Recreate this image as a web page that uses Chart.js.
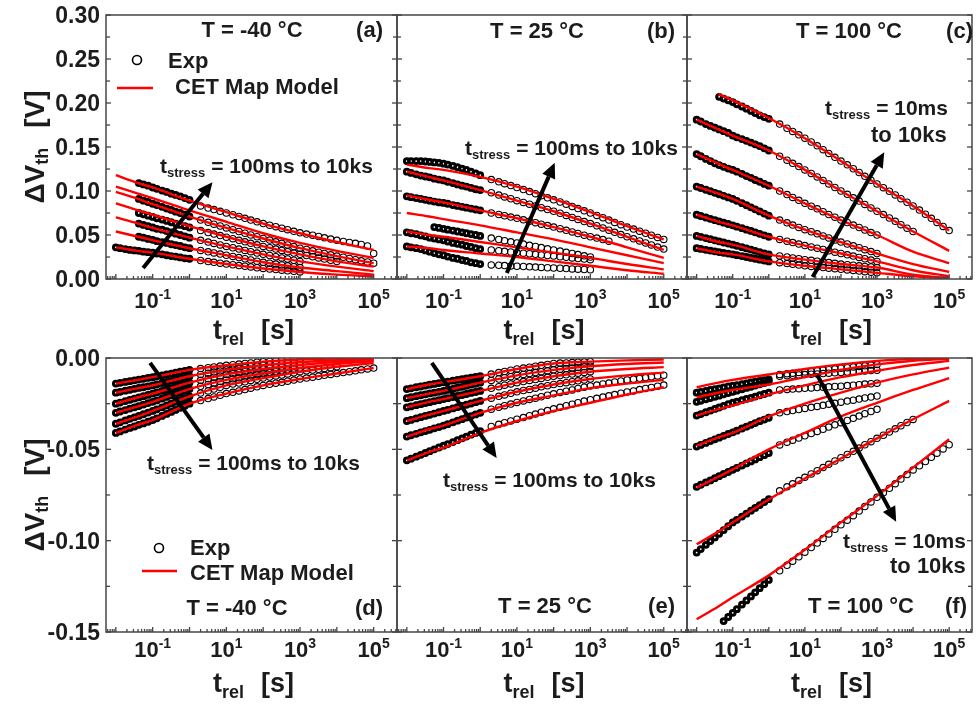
<!DOCTYPE html>
<html>
<head>
<meta charset="utf-8">
<script src="https://cdn.jsdelivr.net/npm/chart.js@4.4.0/dist/chart.umd.min.js"></script>
<style>
html, body { margin: 0; padding: 0; background: #fff; }
#wrap { position: relative; width: 979px; height: 706px; }
#wrap canvas { position: absolute; left: 0; top: 0; }
</style>
</head>
<body>
<div id="wrap">
  <canvas id="pa" width="979" height="706"></canvas>
  <canvas id="pb" width="979" height="706"></canvas>
  <canvas id="pc" width="979" height="706"></canvas>
  <canvas id="pd" width="979" height="706"></canvas>
  <canvas id="pe" width="979" height="706"></canvas>
  <canvas id="pf" width="979" height="706"></canvas>
</div>
<script>
var _ = null;

// relaxation times of the measured points [s]: fast window up to 1 s, then the slow window
var relTimes = [0.01, 0.013, 0.018, 0.024, 0.032, 0.042, 0.056, 0.075, 0.1, 0.13, 0.18, 0.24, 0.32, 0.42, 0.56, 0.75, 1,
                2, 3.2, 4.6, 6.8, 10, 15, 22, 32, 46, 68, 100, 150, 220, 320, 460, 680, 1000,
                1500, 2200, 3200, 4600, 6800, 1e4, 1.5e4, 2.2e4, 3.2e4, 4.6e4, 6.8e4, 1e5];
// relaxation times of the model curves [s]
var fitTimes = [0.01, 0.04, 0.1, 1, 10, 100, 1000, 1e4, 1e5];

var decadeExps = [-1, 1, 3, 5];
var topYTicks = [0, 0.05, 0.10, 0.15, 0.20, 0.25, 0.30];
var bottomYTicks = [-0.15, -0.10, -0.05, 0];
var T_MIN = 0.0054, T_MAX = 4.3e5;
var topRange = [0, 0.30];
var bottomRange = [-0.15, 0];

// dVth in mV, one row per stress time
var expA = [
  [_,_,_,_,_, 109,107.5,106,104,102.5,100.5,99,97,95.5,94,92,90,
   83,80.6,78.9,76.9,75, 73,71,69,67,65,63, 61.2,59.5,57.8,56,54.2,52.5, 51.1,49.7,48.3,46.8,45.4,44, 42.6,41.5,40.5,39.2,37.5,29],
  [_,_,_,_,_, 91,89,87.5,85.5,84,82,80,78.5,76.5,75,73,71,
   67,64.4,62.3,60.2,58, 56,54,52,50,48,46, 44.2,42.3,40.5,38.7,36.8,35, 33.5,32,30.5,29,27.5,26, 24.7,23.3,22,20.7,19.3,18],
  [_,_,_,_,_, 75,73.5,72,70.5,69,67.5,66,64.5,63,61.5,60,58.5,
   55,52.8,51.1,49.3,47.5, 45.8,44,42.2,40.5,38.8,37, 35.5,34,32.5,31,29.5,28, 26.7,25.3,24,22.7,21.3,20, _,_,_,_,_,_],
  [_,_,_,_,_, 63,61.5,60,58.5,57,56,54.5,53,51.5,50,48.5,47,
   44,42,40.4,38.7,37, 35.5,34,32.5,31,29.5,28, 26.7,25.3,24,22.7,21.3,20, _,_,_,_,_,_, _,_,_,_,_,_],
  [_,_,_,_,_, 48,47,45.5,44.5,43,42,41,39.5,38.5,37.5,36,35,
   32.5,30.9,29.6,28.3,27, 25.7,24.3,23,21.7,20.3,19, 18,17,16,15,14,13, _,_,_,_,_,_, _,_,_,_,_,_],
  [36,35,34,33,32.5,32,31,30.5,30,29,28,27,26,25.5,24.5,23.5,23,
   21,19.8,18.9,18,17, 16.2,15.3,14.5,13.7,12.8,12, 11.3,10.7,10,9.3,8.7,8, _,_,_,_,_,_, _,_,_,_,_,_]
];
var fitA = [
  [118,109,104,89,76,63,52,42,33],
  [105,97,92,78,65,52,41,32,24],
  [99,91,85,71,58,46,35,26,18],
  [86,78,73,60,48,37,28,20,14],
  [70,63,58,47,37,28,20,14,9],
  [54,48,44,35,27,19,13,9,5],
  [36,32,30,23,17,12,8,5,3]
];

var expB = [
  [134,134,134,134,133.5,133,132.5,132,131,130,128.5,127,125.5,124,122,120,118,
   113,110.4,108.3,106.2,104, 101.7,99.3,97,94.7,92.3,90, 87.5,85,82.5,80,77.5,75, 72.3,69.7,67,64.3,61.7,59, 56.7,54.3,52,49.7,47.3,45],
  [122,120.5,119,117.5,116.5,115.5,114,113,112,110.5,109,107.5,106,105,103.5,102,101,
   98,95.4,93.3,91.2,89, 87,85,83,81,79,77, 74.7,72.3,70,67.7,65.3,63, 60.5,58,55.5,53,50.5,48, 45.7,43.3,41,38.7,36.3,34],
  [94,93,92,91,90,89,88,87,86.5,85.5,84,83,82,81,80,79,78,
   75,73.3,71.9,70.4,69, 67.3,65.7,64,62.3,60.7,59, 57.2,55.3,53.5,51.7,49.8,48, 46.5,44.8,43,_,_,_, _,_,_,_,_,_],
  [_,_,_,_,_,_, 59,58,57,56,55,54,53,52,51,50,49,
   46.5,44.9,43.6,42.3,41, 39.7,38.3,37,35.7,34.3,33, 31.7,30.3,29,27.7,26.3,25, _,_,_,_,_,_, _,_,_,_,_,_],
  [53,52,51,49.5,48.5,47,46,45,44,42.5,41,40,39,37.5,36.5,35,34,
   33,32.1,31.4,30.7,30, 29.3,28.7,28,27.3,26.7,26, 25.3,24.7,24,23.3,22.7,22, _,_,_,_,_,_, _,_,_,_,_,_],
  [37,36,35,34,32.5,31,29.5,28,27,25.5,24,23,21.5,20.5,19,18,17,
   16,15.6,15.2,14.9,14.5, 14.2,13.8,13.5,13.2,12.8,12.5, 12.2,11.8,11.5,11.2,10.8,10.5, _,_,_,_,_,_, _,_,_,_,_,_]
];
var fitB = [
  [130,126,124,116,105,91,76,60,45],
  [122,116,112,101,89,77,63,48,33],
  [95,90,87,78,69,59,48,36,24],
  [75,71,68,61,53,45,36,27,18],
  [54,50,48,42,36,30,24,17,11],
  [37,35,33,29,25,20,15,10,6]
];

var expC = [
  [_,_,_,_,_, 207,205,203,201,198.5,196,193.5,191,188.5,186,184,182,
   176,171.3,167.7,163.8,160, 155.7,151.3,147,142.7,138.3,134, 129.7,125.3,121,116.7,112.3,108, 103.8,99.7,95.5,91.3,87.2,83, 78.3,73.7,69,64.3,59.7,55],
  [181,179,176,174,172,170,168,166,163,161,159,157,155,153,151,148.5,146,
   139.5,135,131.5,127.7,124, 120,116,112,108,104,100, 96.2,92.3,88.5,84.7,80.8,77, 73.2,69.3,65.5,61.7,57.8,54, _,_,_,_,_,_],
  [142,139.5,136.5,134,131.5,129.5,127.5,125.5,124,122,119.5,117,115,112.5,110.5,108,106,
   100,95.9,92.7,89.4,86, 82.8,79.7,76.5,73.3,70.2,67, 64.2,61.3,58.5,55.7,52.8,50, _,_,_,_,_,_, _,_,_,_,_,_],
  [105,103.4,101.4,99.7,97.9,96.3,94.5,92.7,91,88.8,86.2,83.8,81.4,79.2,76.8,74.4,72,
   67,63.8,61.3,58.6,56, 53.7,51.3,49,46.7,44.3,42, 39.8,37.7,35.5,33.3,31.2,29, _,_,_,_,_,_, _,_,_,_,_,_],
  [73,71.6,69.9,68.4,66.9,65.5,64,62.5,61,59.5,57.7,56.1,54.6,53,51.3,49.6,48,
   45,43,41.4,39.7,38, 36.5,35,33.5,32,30.5,29, 27.5,26,24.5,23,21.5,20, _,_,_,_,_,_, _,_,_,_,_,_],
  [49,47.9,46.5,45.2,44,42.8,41.5,40.3,39,37.7,36.2,34.8,33.4,32,30.6,29.2,28,
   26.2,25,24,23,22, 21.2,20.3,19.5,18.7,17.8,17, 16.3,15.7,15,14.3,13.7,13, _,_,_,_,_,_, _,_,_,_,_,_],
  [35,34.2,33.2,32.3,31.5,30.6,29.8,28.9,28,27.1,26,25,24,23,22,21,20,
   18.5,17.5,16.7,15.8,15, 14.3,13.7,13,12.3,11.7,11, 10.3,9.7,9,8.3,7.7,7, _,_,_,_,_,_, _,_,_,_,_,_]
];
var fitC = [
  [_,210,203,183,160,134,108,83,55],
  [181,170,163,146,124,100,77,54,32],
  [142,131,124,106,86,67,50,31,18],
  [105,97,91,72,56,42,29,17,8],
  [73,65,61,48,38,29,20,10,3],
  [49,42,39,28,22,17,13,5,1],
  [35,30,28,20,15,11,7,3,0.5]
];

var expD = [
  [-14,-13.6,-13.1,-12.7,-12.2,-11.8,-11.4,-10.9,-10.5,-10,-9.5,-9,-8.5,-8,-7.5,-7,-6.5,
   -5.8,-5.3,-4.9,-4.4,-4, -3.7,-3.3,-3,-2.7,-2.3,-2, -1.8,-1.6,-1.4,-1.2,-1,-0.8, _,_,_,_,_,_, _,_,_,_,_,_],
  [-19,-18.5,-17.9,-17.4,-16.9,-16.4,-16,-15.5,-15,-14.4,-13.7,-13.1,-12.5,-11.9,-11.2,-10.6,-10,
   -9,-8.3,-7.7,-7.1,-6.5, -6.1,-5.7,-5.3,-4.8,-4.4,-4, -3.7,-3.4,-3.1,-2.8,-2.5,-2.2, _,_,_,_,_,_, _,_,_,_,_,_],
  [-25,-24.4,-23.6,-22.9,-22.2,-21.6,-20.9,-20.2,-19.5,-18.8,-18,-17.2,-16.5,-15.8,-15,-14.3,-13.5,
   -12.2,-11.3,-10.5,-9.8,-9, -8.5,-8,-7.5,-7,-6.5,-6, -5.6,-5.3,-4.9,-4.5,-4.2,-3.8, _,_,_,_,_,_, _,_,_,_,_,_],
  [-30,-29.3,-28.5,-27.7,-27,-26.3,-25.5,-24.7,-24,-23.2,-22.2,-21.3,-20.5,-19.6,-18.8,-17.9,-17,
   -15.5,-14.5,-13.7,-12.8,-12, -11.4,-10.8,-10.3,-9.7,-9.1,-8.5, -8,-7.5,-7,-6.5,-6,-5.5, _,_,_,_,_,_, _,_,_,_,_,_],
  [-36,-35.2,-34.2,-33.3,-32.5,-31.7,-30.8,-29.9,-29,-28.1,-27,-26,-25,-24,-23,-22,-21,
   -19.2,-18,-17,-16,-15, -14.3,-13.7,-13,-12.3,-11.7,-11, -10.4,-9.8,-9.3,-8.7,-8.1,-7.5, -7,-6.6,-6.2,-5.7,-5.3,-4.8, _,_,_,_,_,_],
  [-41,-40.2,-39.2,-38.3,-37.5,-36.6,-35.8,-34.9,-34,-33,-31.7,-30.6,-29.5,-28.4,-27.3,-26.1,-25,
   -23.3,-22.2,-21.3,-20.4,-19.5, -18.8,-18,-17.3,-16.5,-15.8,-15, -14.4,-13.8,-13.3,-12.7,-12.1,-11.5, -11,-10.5,-10,-9.5,-9,-8.5, -8,-7.5,-7,-6.5,-6,-5.5]
];
var fitD = [
  [-14,-12,-10.5,-6.5,-4,-2,-0.8,-0.3,-0.1],
  [-19,-16.5,-15,-10,-6.5,-4,-2.2,-1.2,-0.6],
  [-25,-21.5,-19.5,-13.5,-9,-6,-3.8,-2.2,-1.2],
  [-30,-26.5,-24,-17,-12,-8.5,-5.5,-3.3,-1.8],
  [-36,-32,-29,-21,-15,-11,-7.5,-4.8,-2.8],
  [-41,-36.5,-34,-25,-19.5,-15,-11.5,-8.5,-5.5]
];

var expE = [
  [-17,-16.6,-16,-15.6,-15.1,-14.6,-14.2,-13.7,-13.3,-12.9,-12.4,-12,-11.6,-11.2,-10.8,-10.4,-10,
   -8.8,-8,-7.4,-6.7,-6, -5.5,-5,-4.5,-4,-3.5,-3, -2.8,-2.7,-2.5,-2.3,-2.2,-2, _,_,_,_,_,_, _,_,_,_,_,_],
  [-22,-21.5,-20.9,-20.4,-19.9,-19.4,-19,-18.5,-18,-17.5,-16.9,-16.3,-15.8,-15.2,-14.6,-14.1,-13.5,
   -12.3,-11.5,-10.8,-10.2,-9.5, -9,-8.5,-8,-7.5,-7,-6.5, -6.2,-5.8,-5.5,-5.2,-4.8,-4.5, _,_,_,_,_,_, _,_,_,_,_,_],
  [-27,-26.5,-25.8,-25.3,-24.7,-24.2,-23.6,-23.1,-22.5,-22,-21.4,-20.8,-20.3,-19.7,-19.1,-18.6,-18,
   -16.6,-15.7,-14.9,-14.2,-13.5, -12.9,-12.3,-11.8,-11.2,-10.6,-10, -9.6,-9.2,-8.8,-8.3,-7.9,-7.5, _,_,_,_,_,_, _,_,_,_,_,_],
  [-34.5,-33.9,-33.1,-32.4,-31.7,-31.1,-30.4,-29.7,-29,-28.4,-27.6,-26.9,-26.2,-25.6,-24.9,-24.2,-23.5,
   -22,-21,-20.2,-19.3,-18.5, -17.8,-17.2,-16.5,-15.8,-15.2,-14.5, -14,-13.5,-13,-12.5,-12,-11.5, _,_,_,_,_,_, _,_,_,_,_,_],
  [-43,-42.3,-41.5,-40.7,-40,-39.3,-38.5,-37.8,-37,-36.2,-35.2,-34.3,-33.5,-32.6,-31.8,-30.9,-30,
   -28,-26.9,-26.1,-25.2,-24.3, -23.5,-22.7,-22,-21.2,-20.4,-19.6, -18.9,-18.2,-17.5,-16.7,-16,-15.3, -14.8,-14.2,-13.7,-13.1,-12.6,-12, -11.6,-11.1,-10.7,-10.3,-9.8,-9.4],
  [-56,-55.1,-54,-53,-52,-51,-50,-49,-48,-47.1,-46,-45,-44,-43,-42,-41,-40,
   -37.5,-36.3,-35.4,-34.5,-33.5, -32.6,-31.6,-30.7,-29.7,-28.8,-27.8, -27,-26.1,-25.3,-24.5,-23.6,-22.8, -22.1,-21.4,-20.7,-20,-19.3,-18.6, -18,-17.3,-16.7,-16.1,-15.4,-14.8]
];
var fitE = [
  [-17,-14.5,-13.3,-10,-6,-3,-2,-1.3,-0.8],
  [-22,-19.5,-18,-13.5,-9.5,-6.5,-4.5,-3.3,-2.5],
  [-27,-24,-22.5,-18,-13.5,-10,-7.5,-6,-5],
  [-34.5,-31,-29,-23.5,-18.5,-14.5,-11.5,-9.5,-8],
  [-43,-39,-37,-30,-24.5,-20.5,-16.5,-14,-12],
  [-56,-51.5,-49,-41,-34.5,-29,-24.5,-20,-16]
];

var expF = [
  [-19,-18.6,-18,-17.5,-17,-16.6,-16.1,-15.6,-15.2,-14.8,-14.3,-13.9,-13.4,-13,-12.5,-12.1,-11.7,
   -9,-8.6,-8.3,-7.9,-7.6, -7.3,-6.9,-6.6,-6.3,-5.9,-5.6, -5.3,-4.9,-4.6,-4.3,-3.9,-3.6, _,_,_,_,_,_, _,_,_,_,_,_],
  [-24,-23.4,-22.6,-21.9,-21.2,-20.6,-19.9,-19.2,-18.5,-17.9,-17.1,-16.4,-15.8,-15.1,-14.4,-13.7,-13,
   -10,-9.7,-9.5,-9.3,-9.1, -8.9,-8.7,-8.5,-8.3,-8.1,-7.9, -7.7,-7.5,-7.3,-7.1,-6.9,-6.7, _,_,_,_,_,_, _,_,_,_,_,_],
  [-31.5,-30.7,-29.7,-28.8,-27.9,-27.1,-26.2,-25.3,-24.5,-23.9,-23.1,-22.4,-21.8,-21.1,-20.4,-19.7,-19,
   -17.5,-17.2,-17,-16.8,-16.6, -16.4,-16.2,-16,-15.8,-15.6,-15.4, -15.1,-14.9,-14.6,-14.3,-14.1,-13.8, _,_,_,_,_,_, _,_,_,_,_,_],
  [-48.5,-47.6,-46.5,-45.5,-44.5,-43.6,-42.6,-41.6,-40.7,-39.8,-38.6,-37.6,-36.6,-35.6,-34.6,-33.7,-32.7,
   -30,-29.3,-28.8,-28.2,-27.6, -27,-26.5,-25.9,-25.3,-24.8,-24.2, -23.6,-23.1,-22.5,-21.9,-21.4,-20.8, _,_,_,_,_,_, _,_,_,_,_,_],
  [-70.5,-69.4,-68.1,-67,-65.8,-64.7,-63.5,-62.4,-61.2,-60.2,-58.9,-57.7,-56.6,-55.5,-54.3,-53.2,-52,
   -47.6,-46.1,-45,-43.8,-42.6, -41.4,-40.2,-39,-37.8,-36.6,-35.4, -34.2,-33,-31.8,-30.5,-29.3,-28.1, _,_,_,_,_,_, _,_,_,_,_,_],
  [-106.5,-104.6,-102.3,-100.2,-98.2,-96.2,-94.2,-92.1,-90,-88.6,-86.8,-85.2,-83.6,-82.1,-80.5,-78.9,-77.3,
   -72.7,-70.5,-68.9,-67.1,-65.3, -63.5,-61.7,-60,-58.2,-56.4,-54.6, -52.8,-51.1,-49.3,-47.5,-45.8,-44, -42.3,-40.5,-38.8,-37.1,-35.3,-33.6, _,_,_,_,_,_],
  [_,_,_,_,_,_, -144,-141.8,-139.5,-137.5,-135,-132.7,-130.5,-128.3,-126,-123.8,-121.5,
   -116.5,-113.5,-111.2,-108.8,-106.3, -103.8,-101.3,-98.8,-96.3,-93.8,-91.3, -88.8,-86.3,-83.8,-81.3,-78.8,-76.3, -73.8,-71.3,-68.8,-66.3,-63.8,-61.3, -59,-56.7,-54.4,-52.1,-49.8,-47.5]
];
var fitF = [
  [-16,-13.5,-12,-9,-6,-3.5,-1.6,-0.5,0],
  [-21.5,-19,-17.5,-14.5,-10.5,-6.5,-3.5,-1.5,-0.4],
  [-31.5,-28,-26,-20,-15,-10.5,-7,-3.8,-1.6],
  [-48,-43.5,-41,-32,-25,-19,-13.5,-9,-5.3],
  [-71,-65,-61,-50,-41,-32,-24.5,-17.5,-11],
  [-102,-95,-90,-77.5,-66,-55,-44,-33.5,-23.5],
  [-143,-136,-131,-119,-105,-90,-75.5,-60,-44.5]
];

var FAMILY = '"Liberation Sans", Arial, Helvetica, sans-serif';
var INK = '#1c1c1c';
var FRAME = '#454545';

function font(size) { return 'bold ' + size + 'px ' + FAMILY; }

// row in mV -> {x, y} points in V, skipping gaps
function toPoints(times, row) {
  var pts = [];
  row.forEach(function (v, i) {
    if (v !== null) pts.push({ x: times[i], y: v / 1000 });
  });
  return pts;
}

// parts: [text, size, drop, extraSpaceAfter]
function drawRich(ctx, parts, x, y, align) {
  var total = 0;
  parts.forEach(function (p) {
    ctx.font = font(p[1]);
    p.w = ctx.measureText(p[0]).width + (p[3] || 0);
    total += p.w;
  });
  var cx = align === 'center' ? x - total / 2 : align === 'right' ? x - total : x;
  ctx.textAlign = 'left';
  ctx.textBaseline = 'alphabetic';
  parts.forEach(function (p) {
    ctx.font = font(p[1]);
    ctx.fillText(p[0], cx, y + (p[2] || 0));
    cx += p.w;
  });
}

function line(ctx, x0, y0, x1, y1) {
  ctx.beginPath();
  ctx.moveTo(x0, y0);
  ctx.lineTo(x1, y1);
  ctx.stroke();
}

var panelDecor = {
  id: 'panelDecor',
  afterDraw: function (chart, args, o) {
    var ctx = chart.ctx, a = chart.chartArea;
    var xs = chart.scales.x, ys = chart.scales.y;
    ctx.save();

    // frame and inward ticks
    ctx.strokeStyle = FRAME;
    ctx.lineWidth = 1.5;
    ctx.strokeRect(a.left, a.top, a.right - a.left, a.bottom - a.top);
    ctx.lineWidth = 1.3;
    var steps = Math.round((ys.max - ys.min) / 0.025);
    for (var k = 0; k <= steps; k++) {
      var py = ys.getPixelForValue(ys.min + k * 0.025);
      var len = k % 2 === 0 ? 5 : 4;
      line(ctx, a.left, py, a.left + len, py);
      line(ctx, a.right - len, py, a.right, py);
    }
    for (var e = -3; e <= 6; e++) {
      for (var m = 1; m <= 9; m++) {
        var t = m * Math.pow(10, e);
        if (t < xs.min || t > xs.max) continue;
        var px = xs.getPixelForValue(t);
        line(ctx, px, a.bottom, px, a.bottom - (m === 1 ? 5 : 3));
      }
    }

    ctx.fillStyle = INK;
    // value labels on the left panels
    if (o.yTicks) {
      ctx.font = font(23);
      ctx.textAlign = 'right';
      ctx.textBaseline = 'alphabetic';
      o.yTicks.forEach(function (v) {
        ctx.fillText(v.toFixed(2), a.left - 6, ys.getPixelForValue(v) + 8);
      });
    }

    // decade labels 10^n
    decadeExps.forEach(function (n) {
      var px = xs.getPixelForValue(Math.pow(10, n));
      ctx.font = font(22);
      var w1 = ctx.measureText('10').width;
      ctx.font = font(14);
      var w2 = ctx.measureText(String(n)).width;
      var x0 = px - (w1 + w2) / 2, yb = a.bottom + o.tickGap;
      ctx.textAlign = 'left';
      ctx.textBaseline = 'alphabetic';
      ctx.font = font(22);
      ctx.fillText('10', x0, yb);
      ctx.font = font(14);
      ctx.fillText(String(n), x0 + w1, yb - 9);
    });

    // axis titles
    drawRich(ctx, [['t', 27], ['rel', 18, 6, 17], ['[s]', 27]], (a.left + a.right) / 2 + 2, a.bottom + 60, 'center');
    if (o.yTicks) {
      ctx.save();
      ctx.translate(44, (a.top + a.bottom) / 2);
      ctx.rotate(-Math.PI / 2);
      drawRich(ctx, [['\u0394V', 28], ['th', 18, 4, 20], ['[V]', 28]], 0, 0, 'center');
      ctx.restore();
    }

    // panel notes
    o.notes.forEach(function (n) {
      drawRich(ctx, n.parts, a.left + n.dx, a.top + n.dy, n.align);
    });

    // legend
    if (o.legend) {
      var L = o.legend;
      ctx.strokeStyle = '#000';
      ctx.lineWidth = 1.6;
      ctx.beginPath();
      ctx.arc(a.left + L.dot[0], a.top + L.dot[1], 4.5, 0, Math.PI * 2);
      ctx.stroke();
      drawRich(ctx, [['Exp', 22]], a.left + L.expText[0], a.top + L.expText[1], 'left');
      ctx.strokeStyle = '#ff0000';
      ctx.lineWidth = 2.5;
      line(ctx, a.left + L.bar[0], a.top + L.bar[2], a.left + L.bar[1], a.top + L.bar[2]);
      drawRich(ctx, [['CET Map Model', 22]], a.left + L.fitText[0], a.top + L.fitText[1], 'left');
    }

    // stress-time arrow
    var x0 = xs.getPixelForValue(o.arrow[0][0]), y0 = ys.getPixelForValue(o.arrow[0][1]);
    var x1 = xs.getPixelForValue(o.arrow[1][0]), y1 = ys.getPixelForValue(o.arrow[1][1]);
    var ang = Math.atan2(y1 - y0, x1 - x0), head = 15, half = 7;
    var bx = x1 - head * Math.cos(ang), by = y1 - head * Math.sin(ang);
    ctx.strokeStyle = '#000';
    ctx.fillStyle = '#000';
    ctx.lineWidth = 4;
    line(ctx, x0, y0, bx, by);
    ctx.beginPath();
    ctx.moveTo(x1, y1);
    ctx.lineTo(bx + half * Math.sin(ang), by - half * Math.cos(ang));
    ctx.lineTo(bx - half * Math.sin(ang), by + half * Math.cos(ang));
    ctx.closePath();
    ctx.fill();

    ctx.restore();
  }
};

function stressNote(text, dx, dy) {
  return { parts: [['t', 21], ['stress', 13, 4], [text, 21]], dx: dx, dy: dy, align: 'left' };
}
function plain(text, dx, dy, align) {
  return { parts: [[text, 22]], dx: dx, dy: dy, align: align };
}

var panels = [
  { id: 'pa', exp: expA, fit: fitA, range: topRange, area: [106, 15, 397, 279], yTicks: topYTicks, tickGap: 29,
    arrow: [[0.055, 0.0125], [4.2, 0.110]],
    legend: { dot: [31, 45], expText: [62, 53], bar: [11, 47, 73], fitText: [69, 79] },
    notes: [plain('T = -40 \u00b0C', 146, 22, 'center'), plain('(a)', 277, 22, 'right'),
            stressNote(' = 100ms to 10ks', 54, 158)] },
  { id: 'pb', exp: expB, fit: fitB, range: topRange, area: [397, 15, 687, 279], tickGap: 29,
    arrow: [[5.3, 0.0068], [107, 0.132]],
    notes: [plain('T = 25 \u00b0C', 140, 23, 'center'), plain('(b)', 278, 23, 'right'),
            stressNote(' = 100ms to 10ks', 68, 140)] },
  { id: 'pc', exp: expC, fit: fitC, range: topRange, area: [687, 15, 977, 279], tickGap: 29,
    arrow: [[16.4, 0.0023], [1585, 0.144]],
    notes: [plain('T = 100 \u00b0C', 162, 23, 'center'), plain('(c)', 286, 23, 'right'),
            stressNote(' = 10ms', 138, 100), plain('to 10ks', 184, 127, 'left')] },
  { id: 'pd', exp: expD, fit: fitD, range: bottomRange, area: [106, 358, 397, 632], yTicks: bottomYTicks, tickGap: 25,
    arrow: [[0.085, -0.0027], [4.2, -0.0503]],
    legend: { dot: [53, 190], expText: [84, 197], bar: [36, 71, 213], fitText: [84, 222] },
    notes: [stressNote(' = 100ms to 10ks', 41, 112), plain('T = -40 \u00b0C', 131, 257, 'center'),
            plain('(d)', 277, 257, 'right')] },
  { id: 'pe', exp: expE, fit: fitE, range: bottomRange, area: [397, 358, 687, 632], tickGap: 25,
    arrow: [[0.048, -0.0027], [2.8, -0.0547]],
    notes: [stressNote(' = 100ms to 10ks', 46, 129), plain('T = 25 \u00b0C', 148, 255, 'center'),
            plain('(e)', 278, 255, 'right')] },
  { id: 'pf', exp: expF, fit: fitF, range: bottomRange, area: [687, 358, 977, 632], tickGap: 25,
    arrow: [[22, -0.0093], [3400, -0.0897]],
    notes: [stressNote(' = 10ms', 156, 190), plain('to 10ks', 203, 215, 'left'),
            plain('T = 100 \u00b0C', 174, 255, 'center'), plain('(f)', 280, 255, 'right')] }
];

function makePanel(p) {
  var datasets = [];
  p.exp.forEach(function (row) {
    datasets.push({
      type: 'scatter',
      data: toPoints(relTimes, row),
      order: 2,
      showLine: false,
      borderColor: '#000',
      backgroundColor: 'rgba(255,255,255,0)',
      // the fast window is sampled so densely that its circles merge into a band
      pointRadius: function (c) { return c.raw && c.raw.x <= 1 ? 2.4 : 3.2; },
      pointBorderWidth: function (c) { return c.raw && c.raw.x <= 1 ? 3 : 1.1; }
    });
  });
  p.fit.forEach(function (row) {
    datasets.push({
      type: 'line',
      data: toPoints(fitTimes, row),
      order: 1,
      borderColor: '#ff0000',
      borderWidth: 2.4,
      pointRadius: 0,
      fill: false,
      cubicInterpolationMode: 'monotone'
    });
  });

  var W = 979, H = 706;
  new Chart(document.getElementById(p.id), {
    type: 'scatter',
    data: { datasets: datasets },
    options: {
      responsive: false,
      animation: false,
      events: [],
      layout: { padding: { left: p.area[0], top: p.area[1], right: W - p.area[2], bottom: H - p.area[3] } },
      plugins: {
        legend: { display: false },
        tooltip: { enabled: false },
        panelDecor: p
      },
      scales: {
        x: {
          type: 'logarithmic', min: T_MIN, max: T_MAX,
          ticks: { display: false },
          grid: { display: false },
          border: { display: false },
          afterFit: function (s) { s.height = 0; }
        },
        y: {
          type: 'linear', min: p.range[0], max: p.range[1],
          ticks: { display: false },
          grid: { display: false },
          border: { display: false },
          afterFit: function (s) { s.width = 0; }
        }
      }
    },
    plugins: [panelDecor]
  });
}

panels.forEach(makePanel);
</script>
</body>
</html>
